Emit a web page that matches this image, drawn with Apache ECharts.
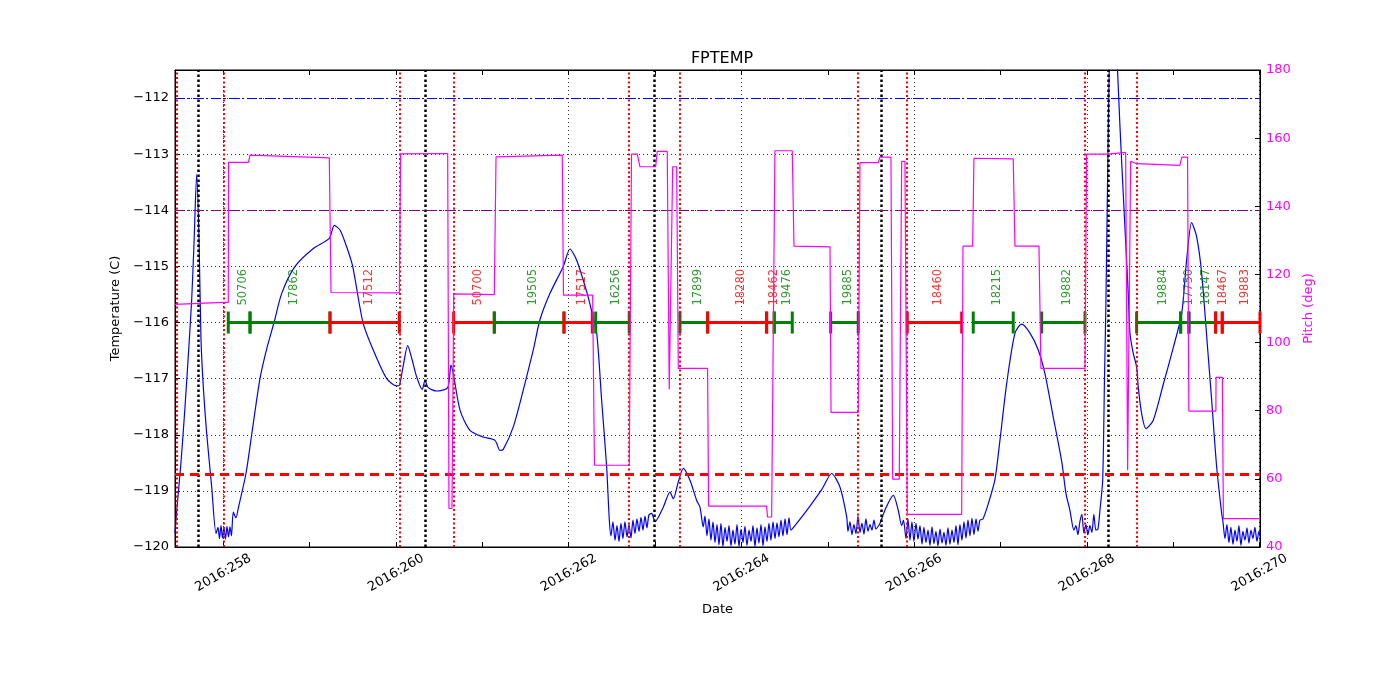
<!DOCTYPE html>
<html><head><meta charset="utf-8">
<script src="https://cdn.jsdelivr.net/npm/echarts@6/dist/echarts.min.js"></script>
<style>html,body{margin:0;padding:0;background:#fff}#c{width:1400px;height:700px}</style>
</head><body><div id="c"></div>
<script>
// ---------- data ----------
const xMin = 257.44, xMax = 270.006;
const dayTicks = [258,259,260,261,262,263,264,265,266,267,268,269,270];
const dayLabels = [258,260,262,264,266,268,270];
const tempTicks = [-120,-119,-118,-117,-116,-115,-114,-113,-112];
const pitchTicks = [40,60,80,100,120,140,160,180];

// FPTEMP (deg C) vs day of year
const tempPoints = [
[257.440,-119.75],[257.463,-119.30],[257.509,-118.50],[257.556,-117.50],[257.602,-116.40],[257.633,-115.60],[257.660,-114.60],[257.691,-113.36],[257.718,-114.50],[257.741,-116.30],[257.770,-117.20],[257.807,-117.98],[257.865,-118.93],[257.915,-119.76],
[257.938,-119.65],[257.955,-119.85],[257.973,-119.62],[257.990,-119.84],[258.007,-119.66],[258.025,-119.86],[258.042,-119.63],[258.060,-119.82],[258.077,-119.64],[258.094,-119.80],[258.115,-119.38],[258.146,-119.48],[258.173,-119.31],
[258.262,-118.69],[258.328,-118.00],[258.424,-117.00],[258.505,-116.45],[258.587,-116.00],[258.676,-115.48],[258.830,-115.00],[259.042,-114.68],[259.227,-114.50],[259.285,-114.27],[259.351,-114.35],[259.428,-114.65],[259.498,-115.00],[259.617,-116.00],[259.736,-116.49],[259.892,-117.00],[260.007,-117.13],[260.038,-117.12],[260.080,-116.80],[260.135,-116.41],[260.184,-116.65],[260.239,-116.97],[260.304,-117.19],[260.335,-117.03],[260.373,-117.16],[260.471,-117.22],[260.598,-117.16],[260.636,-116.76],[260.663,-116.91],[260.741,-117.56],[260.856,-117.92],[261.010,-118.04],[261.146,-118.10],[261.204,-118.28],[261.242,-118.26],[261.358,-117.86],[261.474,-117.20],[261.589,-116.49],[261.667,-115.95],[261.783,-115.48],[261.937,-115.00],[262.014,-114.69],[262.092,-114.89],[262.208,-115.45],[262.258,-115.75],[262.324,-116.19],[262.381,-117.38],[262.439,-118.57],[262.470,-119.52],
[262.489,-119.80],[262.512,-119.55],[262.536,-119.88],[262.559,-119.62],[262.582,-119.90],[262.605,-119.58],[262.628,-119.85],[262.651,-119.55],[262.675,-119.82],[262.698,-119.60],[262.721,-119.84],[262.744,-119.52],[262.767,-119.76],[262.790,-119.50],[262.814,-119.72],[262.837,-119.47],[262.860,-119.70],[262.883,-119.45],[262.906,-119.66],[262.929,-119.43],
[262.961,-119.40],[262.999,-119.55],[263.095,-119.29],[263.173,-119.02],[263.211,-119.14],[263.269,-118.84],[263.327,-118.60],[263.404,-118.81],[263.482,-119.17],[263.520,-119.29],[263.558,-119.64],
[263.578,-119.45],[263.601,-119.80],[263.624,-119.50],[263.647,-119.88],[263.671,-119.55],[263.694,-119.92],[263.717,-119.60],[263.740,-119.96],[263.763,-119.58],[263.786,-119.99],[263.810,-119.65],[263.833,-119.90],[263.856,-119.62],[263.879,-119.98],[263.902,-119.70],[263.925,-119.95],[263.949,-119.60],[263.972,-119.99],[263.995,-119.68],[264.018,-119.92],[264.041,-119.63],[264.064,-119.97],[264.088,-119.70],[264.111,-119.90],[264.134,-119.62],[264.157,-119.99],[264.180,-119.66],[264.203,-119.93],[264.227,-119.60],[264.250,-119.98],[264.273,-119.64],[264.296,-119.90],[264.319,-119.58],[264.342,-119.88],[264.366,-119.55],[264.389,-119.85],[264.412,-119.57],[264.435,-119.82],[264.458,-119.52],[264.481,-119.80],[264.505,-119.50],[264.528,-119.78],[264.551,-119.48],[264.574,-119.70],
[264.620,-119.62],[264.794,-119.27],[264.933,-118.97],[265.045,-118.69],[265.141,-118.93],[265.219,-119.46],
[265.234,-119.72],[265.257,-119.55],[265.280,-119.78],[265.303,-119.60],[265.327,-119.76],[265.350,-119.45],[265.373,-119.74],[265.396,-119.58],[265.419,-119.77],[265.442,-119.50],[265.466,-119.72],[265.489,-119.60],[265.512,-119.70],[265.535,-119.52],[265.558,-119.68],
[265.585,-119.63],[265.604,-119.58],[265.674,-119.30],[265.759,-119.08],[265.817,-119.35],[265.856,-119.62],[265.877,-119.52],
[265.906,-119.85],[265.929,-119.50],[265.952,-119.88],[265.975,-119.55],[265.998,-119.90],[266.022,-119.58],[266.045,-119.86],[266.068,-119.62],[266.091,-119.95],[266.114,-119.65],[266.137,-119.92],[266.161,-119.70],[266.184,-119.97],[266.207,-119.64],[266.230,-119.94],[266.253,-119.72],[266.276,-119.98],[266.300,-119.68],[266.323,-119.93],[266.346,-119.74],[266.369,-119.97],[266.392,-119.66],[266.415,-119.95],[266.439,-119.70],[266.462,-119.92],[266.485,-119.62],[266.508,-119.96],[266.531,-119.60],[266.554,-119.88],[266.578,-119.55],[266.601,-119.84],[266.624,-119.52],[266.647,-119.80],[266.670,-119.49],[266.693,-119.78],[266.717,-119.50],[266.740,-119.72],[266.763,-119.52],
[266.797,-119.50],[266.855,-119.25],[266.936,-118.80],[266.994,-118.10],[267.072,-117.09],[267.168,-116.19],[267.246,-116.03],[267.342,-116.19],[267.438,-116.49],[267.515,-116.91],[267.611,-117.68],[267.712,-118.50],[267.759,-119.05],[267.805,-119.35],[267.851,-119.70],
[267.874,-119.62],[267.897,-119.78],[267.920,-119.55],[267.943,-119.42],[267.966,-119.75],[267.990,-119.60],[268.013,-119.78],[268.036,-119.62],[268.059,-119.74],[268.082,-119.42],[268.105,-119.70],[268.129,-119.68],
[268.152,-119.35],[268.184,-118.81],[268.205,-117.00],[268.222,-115.60],[268.245,-113.00],[268.268,-111.00],[268.303,-110.40],[268.349,-111.30],[268.384,-112.50],[268.422,-113.70],[268.480,-115.48],[268.500,-116.19],[268.538,-116.55],[268.577,-116.79],[268.596,-117.15],[268.635,-117.62],[268.685,-117.89],[268.770,-117.74],[268.886,-117.10],[269.001,-116.45],[269.099,-115.84],[269.156,-114.89],[269.214,-114.22],[269.272,-114.47],[269.330,-115.12],[269.407,-116.61],[269.446,-117.38],[269.504,-118.57],[269.562,-119.40],
[269.577,-119.55],[269.600,-119.85],[269.623,-119.60],[269.646,-119.92],[269.669,-119.65],[269.693,-119.95],[269.716,-119.70],[269.739,-119.90],[269.762,-119.62],[269.785,-119.97],[269.808,-119.72],[269.832,-119.88],[269.855,-119.66],[269.878,-119.93],[269.901,-119.70],[269.924,-119.85],[269.947,-119.65],[269.971,-119.90],[269.994,-119.72],[270.006,-119.80]
];

// Pitch (deg) vs day of year
const pitchPoints = [
[257.440,111.2],[257.996,111.8],[258.057,111.8],[258.060,152.9],[258.290,152.9],[258.309,155.0],[259.227,154.2],[259.247,114.7],[260.038,114.6],[260.053,155.4],[260.598,155.5],[260.613,51.3],[260.648,51.3],[260.668,114.3],[261.138,114.1],[261.158,154.5],[261.925,155.0],[261.939,113.9],[262.277,113.9],[262.298,64.0],[262.701,64.0],[262.727,155.3],[262.794,155.3],[262.825,151.6],[263.007,151.6],[263.025,156.1],[263.141,156.1],[263.164,86.2],[263.184,86.2],[263.204,151.6],[263.250,151.6],[263.269,92.4],[263.608,92.4],[263.620,52.0],[264.292,52.0],[264.302,48.8],[264.350,48.8],[264.388,156.3],[264.589,156.3],[264.609,128.3],[265.026,128.1],[265.038,79.5],[265.353,79.5],[265.373,152.8],[265.585,152.8],[265.604,154.4],[265.732,154.4],[265.752,59.9],[265.828,59.9],[265.856,153.2],[265.894,153.2],[265.921,49.6],[266.551,49.6],[266.566,128.3],[266.678,128.3],[266.693,154.1],[267.148,153.9],[267.168,128.3],[267.446,128.3],[267.469,92.4],[267.979,92.4],[267.998,155.3],[268.248,155.3],[268.256,155.8],[268.450,155.8],[268.473,62.5],[268.490,62.5],[268.508,153.2],[268.577,152.5],[269.078,152.0],[269.101,154.4],[269.167,154.4],[269.182,79.9],[269.495,79.9],[269.497,89.8],[269.570,89.8],[269.582,48.3],[270.006,48.3]
];

// labelled intervals drawn at the -116 level
const segLevel = -116;
const segStart = [258.057,258.309,259.235,260.667,261.138,261.945,262.312,263.288,263.609,264.292,264.380,265.034,265.921,266.685,267.477,268.577,269.087,269.183,269.492,269.569];
const segEnd   = [258.309,259.235,260.038,261.138,261.945,262.273,262.701,263.609,264.292,264.380,264.589,265.353,266.551,267.148,267.979,269.087,269.183,269.492,269.569,270.006];
const segKind  = ['g','g','r','r','g','r','g','g','r','r','g','g','r','g','g','g','g','g','r','r'];
const segLabel = ['50706','17862','17512','50700','19505','17517','16256','17899','18280','18462','19476','19885','18460','18215','19882','19884','17750','18147','18467','19883'];

// vertical event lines
const redLineTimes = [257.463,258.000,260.038,260.667,262.701,263.288,265.353,265.921,267.979,268.577];
const blackLineTimes = [257.710,260.343,262.987,265.622,268.253];

// horizontal limits (deg C)
const limitBlue = -112.0, limitPurple = -114.0, limitRed = -118.7;

// ---------- chart ----------
const FONT = 'DejaVu Sans';
const KIND_COLOR = {g:'#008000', r:'#ff0000'};
const minus = s => String(s).replace('-', '\u2212');

const chart = echarts.init(document.getElementById('c'), null, {renderer:'canvas'});

const series = [];
series.push({
  type:'line', data:[[xMin, tempTicks[0]]], xAxisIndex:0, yAxisIndex:0, symbol:'none',
  lineStyle:{opacity:0}, silent:true, z:1,
  markLine:{
    symbol:'none', silent:true, animation:false, label:{show:false},
    data:[].concat(
      dayLabels.map(d => ({xAxis:d, lineStyle:{color:'#000', width:0.8, type:[1,3]}})),
      redLineTimes.map(d => ({xAxis:d, lineStyle:{color:'#ff0000', width:2, type:[2,2.5]}})),
      blackLineTimes.map(d => ({xAxis:d, lineStyle:{color:'#000', width:2.5, type:[2.5,2.5]}})),
      [
        {yAxis:limitBlue, lineStyle:{color:'#0000ff', width:1, type:[10,3,2,3]}},
        {yAxis:limitPurple, lineStyle:{color:'#800080', width:1, type:[10,3,2,3]}},
        {yAxis:limitRed, lineStyle:{color:'#ff0000', width:3, type:[9,6]}}
      ]
    )
  }
});

series.push({
  name:'FPTEMP', type:'line', data:tempPoints, xAxisIndex:0, yAxisIndex:0,
  symbol:'none', showSymbol:false, clip:true, smooth:0.25,
  lineStyle:{color:'#0000ff', width:1.2}, z:3
});

segStart.forEach((s, i) => {
  const col = KIND_COLOR[segKind[i]];
  series.push({
    type:'line', data:[[s, segLevel],[segEnd[i], segLevel]], xAxisIndex:0, yAxisIndex:0,
    symbol:'rect', symbolSize:[3,22], showSymbol:true, clip:false,
    itemStyle:{color:col}, lineStyle:{color:col, width:3}, silent:true, z:4
  });
});

series.push({
  type:'scatter', xAxisIndex:0, yAxisIndex:0, symbolSize:1, silent:true, z:5,
  itemStyle:{color:'rgba(0,0,0,0)'},
  data: segStart.map((s, i) => ({
    value:[(s + segEnd[i]) / 2, segLevel], name:segLabel[i],
    label:{color:KIND_COLOR[segKind[i]]}
  })),
  label:{
    show:true, formatter:p => p.name, position:'inside', rotate:90,
    align:'left', verticalAlign:'middle', offset:[17,4],
    fontSize:11.5, fontFamily:FONT, textBorderWidth:0
  }
});

series.push({
  name:'Pitch', type:'line', data:pitchPoints, xAxisIndex:0, yAxisIndex:1,
  symbol:'none', showSymbol:false, clip:true,
  lineStyle:{color:'#ff00ff', width:1.2}, z:6
});

const tickFont = {fontSize:13, fontFamily:FONT, color:'#000'};

chart.setOption({
  animation:false,
  backgroundColor:'#fff',
  textStyle:{fontFamily:FONT},
  title:{text:'FPTEMP', left:717, top:46, textAlign:'center',
    textStyle:{fontSize:16, fontWeight:'normal', color:'#000', fontFamily:FONT}},
  grid:{left:175, right:140, top:70, bottom:153, containLabel:false,
    show:true, borderColor:'#000', borderWidth:1, backgroundColor:'transparent'},
  xAxis:[{
    type:'value', min:xMin, max:xMax, position:'bottom',
    axisLine:{show:true, onZero:false, lineStyle:{color:'#000', width:1}},
    axisTick:{show:true, inside:true, length:5, customValues:dayTicks, lineStyle:{color:'#000'}},
    axisLabel:Object.assign({show:true, customValues:dayLabels, formatter:v => '2016:' + v,
      rotate:30, align:'center', verticalAlign:'middle', margin:26}, tickFont),
    splitLine:{show:false},
    name:'Date', nameLocation:'middle', nameGap:56,
    nameTextStyle:{fontSize:13, color:'#000', fontFamily:FONT}
  },{
    type:'value', min:xMin, max:xMax, position:'top',
    axisLine:{show:true, onZero:false, lineStyle:{color:'#000', width:1}},
    axisTick:{show:true, inside:true, length:5, customValues:dayTicks, lineStyle:{color:'#000'}},
    axisLabel:{show:false}, splitLine:{show:false}
  }],
  yAxis:[{
    type:'value', min:-120, max:-111.5, interval:1, position:'left',
    axisLine:{show:true, onZero:false, lineStyle:{color:'#000', width:1}},
    axisTick:{show:true, inside:true, length:5, lineStyle:{color:'#000'}},
    axisLabel:Object.assign({margin:6, formatter:v => (Number.isInteger(v) ? minus(v) : '')}, tickFont),
    splitLine:{show:true, lineStyle:{color:'#000', width:0.8, type:[1,3]}},
    name:'Temperature (C)', nameLocation:'middle', nameGap:45,
    nameTextStyle:{fontSize:13, color:'#000', fontFamily:FONT}
  },{
    type:'value', min:40, max:180, interval:20, position:'right',
    axisLine:{show:true, onZero:false, lineStyle:{color:'#000', width:1}},
    axisTick:{show:true, inside:true, length:5, lineStyle:{color:'#000'}},
    axisLabel:{margin:6, fontSize:13, fontFamily:FONT, color:'#ff00ff'},
    splitLine:{show:false},
    name:'Pitch (deg)', nameLocation:'middle', nameGap:31,
    nameTextStyle:{fontSize:13, color:'#ff00ff', fontFamily:FONT}
  }],
  series:series
});
</script></body></html>
